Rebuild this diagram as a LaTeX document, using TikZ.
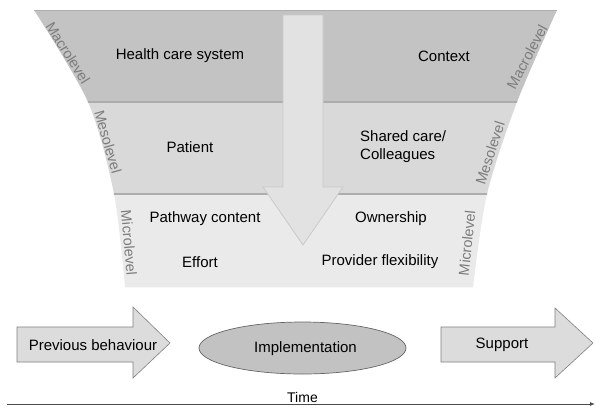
\documentclass[tikz,border=0pt]{standalone}
\usepackage{fontspec}
\setmainfont{Liberation Sans}
\usetikzlibrary{shapes.geometric,arrows.meta}
\definecolor{macroc}{HTML}{C3C3C3}
\definecolor{mesoc}{HTML}{D9D9D9}
\definecolor{microc}{HTML}{EAEAEA}
\definecolor{sepc}{HTML}{ADADAD}
\definecolor{bigarrowc}{HTML}{E2E2E2}
\definecolor{bigarrowline}{HTML}{CACACA}
\definecolor{lvlc}{HTML}{7C7C7C}
\definecolor{boxarrowc}{HTML}{DCDCDC}
\definecolor{boxline}{HTML}{808080}
\definecolor{ellc}{HTML}{C2C2C2}
\definecolor{axisc}{HTML}{4A4A4A}
\tikzset{
  lbl/.style={font=\fontsize{15}{18}\selectfont, text=black, inner sep=0pt},
  lvl/.style={font=\fontsize{14.5}{17}\selectfont, text=lvlc, inner sep=0pt},
  boxarrow/.style={fill=boxarrowc, draw=boxline, line width=0.6pt, line join=miter},
  seplin/.style={draw=sepc, line width=1.4pt},
}
\begin{document}
\begin{tikzpicture}[x=1pt,y=-1pt]
\useasboundingbox (0,0) rectangle (600,408);
\fill[white] (0,0) rectangle (600,408);
% funnel
\begin{scope}
\clip (34,10) -- (557,10) -- plot[smooth] coordinates {(557,10) (517,102) (487,194) (473,287)} -- (125,287) -- plot[smooth] coordinates {(125,287) (114,194) (88,102) (34,10)} -- cycle;
\fill[macroc] (0,10) rectangle (600,102);
\fill[mesoc] (0,102) rectangle (600,194);
\fill[microc] (0,194) rectangle (600,287);
\draw[seplin] (0,10) -- (600,10);
\draw[seplin] (0,102) -- (600,102);
\draw[seplin] (0,194) -- (600,194);
\draw[draw=sepc!70, line width=1pt] (0,287) -- (600,287);
\end{scope}
% big down arrow
\draw[fill=bigarrowc, draw=bigarrowline, line width=0.8pt, line join=miter]
  (283,15) -- (323,15) -- (323,187) -- (343,187) -- (303,245) -- (263,187) -- (283,187) -- cycle;
% level labels
\node[lvl, rotate=-58] (lmacro) at (68,53) {Macrolevel};
\node[lvl, rotate=-74] (lmeso) at (108,142) {Mesolevel};
\node[lvl, rotate=-85] (lmicro) at (129,243) {Microlevel};
\node[lvl, rotate=62] (rmacro) at (527,57) {Macrolevel};
\node[lvl, rotate=72] (rmeso) at (490,153) {Mesolevel};
\node[lvl, rotate=84] (rmicro) at (467,243) {Microlevel};
% content labels
\node[lbl] (hcs) at (180,56) {Health care system};
\node[lbl] (ctx) at (444,56) {Context};
\node[lbl] (pat) at (190,147) {Patient};
\node[lbl, align=left, anchor=west] (shc) at (360,147) {Shared care/\\Colleagues};
\node[lbl] (pwc) at (205,219) {Pathway content};
\node[lbl] (own) at (391,219) {Ownership};
\node[lbl] (eff) at (200,262) {Effort};
\node[lbl] (pfl) at (380,262) {Provider flexibility};
% bottom row
\draw[boxarrow] (17,327) -- (133,327) -- (133,307) -- (170,343) -- (133,378) -- (133,362) -- (17,362) -- cycle;
\node[lbl] (prev) at (93,345) {Previous behaviour};
\node[ellipse, fill=ellc, draw=boxline!80!black, line width=0.7pt, minimum width=207pt, minimum height=52pt, inner sep=0pt] (impl) at (302.5,348) {};
\node[lbl] (impltxt) at (305.5,349) {Implementation};
\draw[boxarrow] (441,327) -- (555,327) -- (555,308) -- (593,343) -- (555,378) -- (555,362) -- (441,362) -- cycle;
\node[lbl] (supp) at (502,345) {Support};
% time axis
\coordinate (t0) at (7,404);
\coordinate (t1) at (595,404);
\draw[axisc, line width=0.9pt, -{Latex[length=5pt,width=4pt]}] (t0) -- (t1);
\node[lbl, font=\fontsize{14}{16}\selectfont, anchor=base] (time) at (302.5,402) {Time};
\end{tikzpicture}
\end{document}
